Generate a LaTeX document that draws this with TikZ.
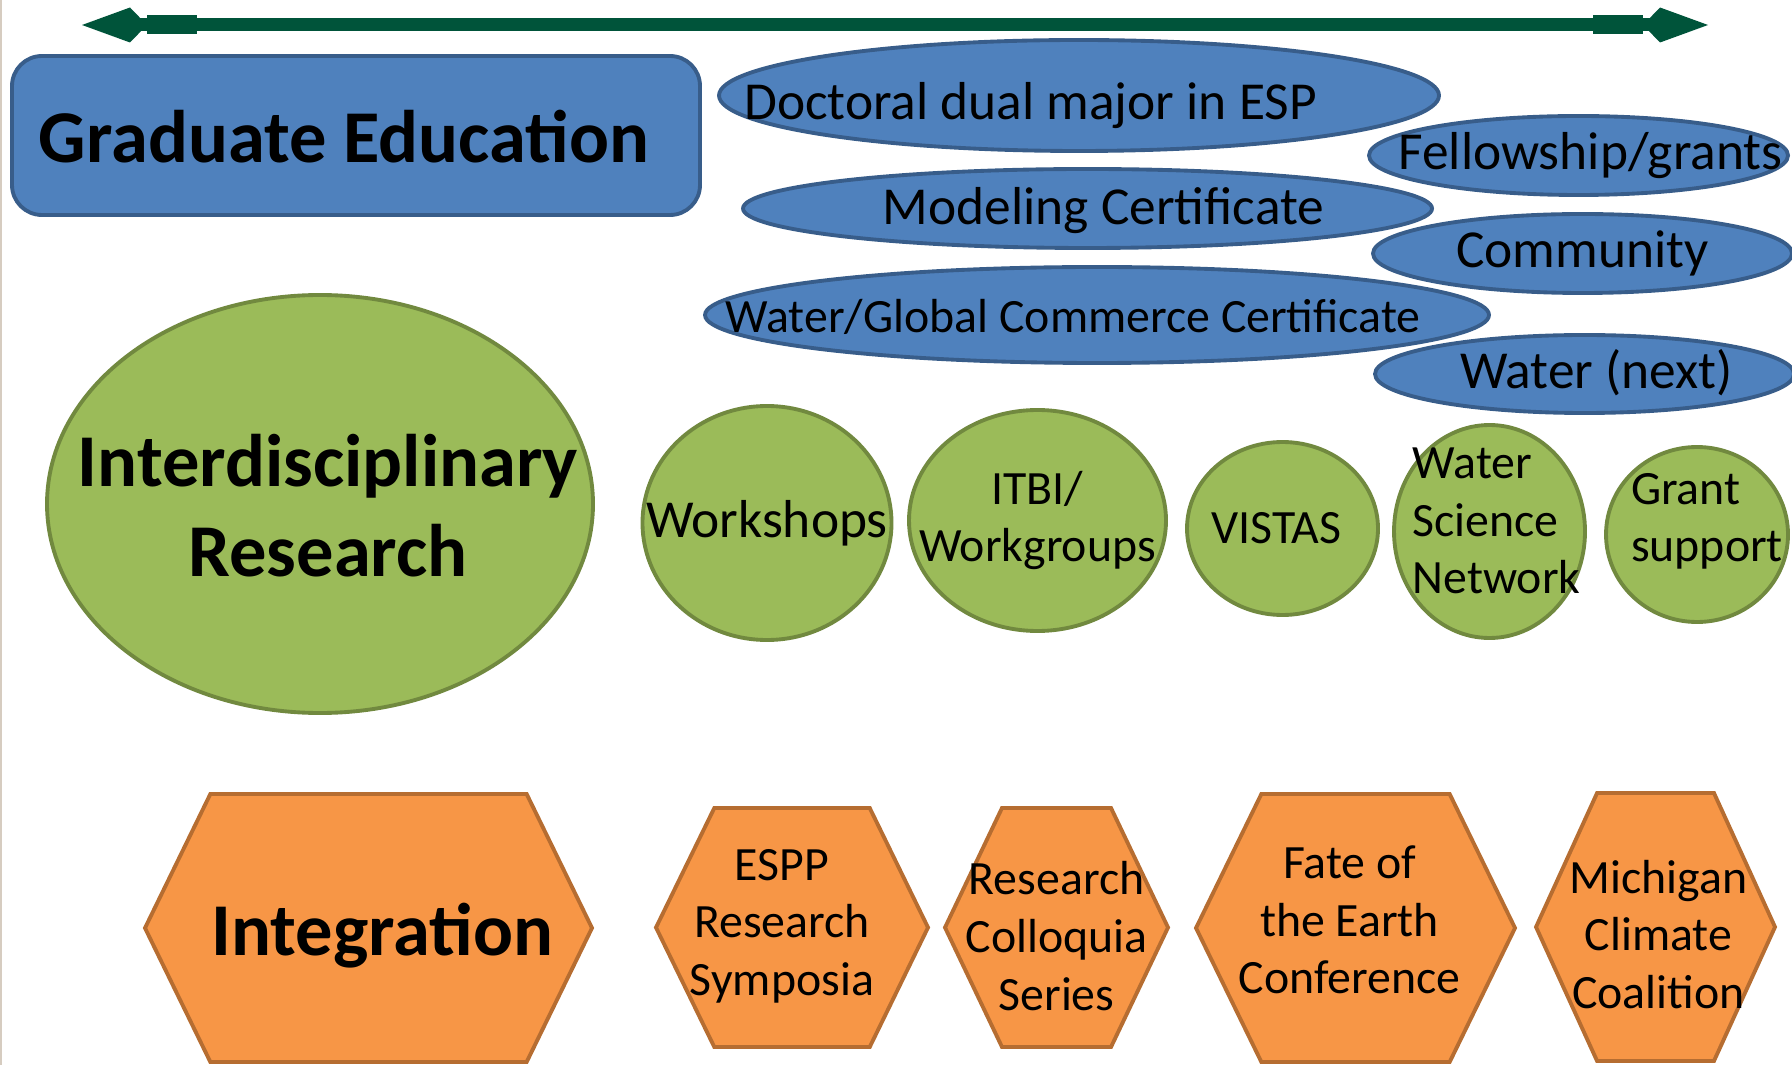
\documentclass[tikz,border=0pt]{standalone}
\usepackage{fontspec}
\setmainfont{Carlito}
\usetikzlibrary{shapes.geometric,shapes.symbols,arrows.meta}
\definecolor{blueoff}{RGB}{79,129,189}
\definecolor{bluerim}{RGB}{56,93,138}
\definecolor{greenoff}{RGB}{155,187,89}
\definecolor{greenrim}{RGB}{113,137,63}
\definecolor{orangeoff}{RGB}{247,150,70}
\definecolor{orangerim}{RGB}{182,109,49}
\definecolor{barcolor}{RGB}{0,84,58}
\definecolor{slideedge}{RGB}{214,204,192}
\newcommand{\headsize}{\fontsize{21.2}{25.6}\selectfont\bfseries}
\newcommand{\itemsize}{\fontsize{15.2}{16.4}\selectfont}
\newcommand{\smallsize}{\fontsize{13.6}{16.4}\selectfont}
\tikzstyle{box} = [rectangle, draw=bluerim, fill=blueoff, line width=1.1pt,
                rounded corners=3mm, inner sep=0pt]
\tikzstyle{oval} = [ellipse, draw=bluerim, fill=blueoff, line width=1.1pt, inner sep=0pt]
\tikzstyle{disc} = [ellipse, draw=greenrim, fill=greenoff, line width=1.1pt, inner sep=0pt]
\tikzstyle{hexa} = [signal, signal to=west and east, signal pointer angle=128,
                draw=orangerim, fill=orangeoff, line width=1.1pt, inner sep=0pt]
\tikzstyle{timeline} = [draw=barcolor, line width=1.3mm,
                {Kite[length=6.5mm,width=3.5mm,inset=1.7mm] Rectangle[length=5mm,width=1.9mm]}-{Rectangle[length=5mm,width=1.9mm] Kite[length=6.5mm,width=3.5mm,inset=1.7mm]}]
\tikzset{every label/.style={text=black, align=center, font=\smallsize}}

\begin{document}
\begin{tikzpicture}[x=0.1mm, y=-0.1mm]
                \useasboundingbox (0,0) rectangle (1792,1065);
                \draw[slideedge, line width=0.15mm] (1,0) -- (1,1065);
                \coordinate (west) at (82,25);
                \coordinate (east) at (1708,25);
                \path[timeline] (west) -- (east);
                \node[box, minimum width=68.8mm, minimum height=15.9mm, label={[font=\headsize, xshift=-1.2mm, yshift=-0.1mm]center:Graduate Education}](grad) at (356,135.5){};
                \node[oval, minimum width=72mm, minimum height=11.1mm, label={[font=\itemsize, xshift=-4.85mm, yshift=-1mm]center:Doctoral dual major in ESP}](dual) at (1079,95.5){};
                \node[oval, minimum width=41.9mm, minimum height=7.9mm, label={[font=\itemsize, xshift=1.2mm]center:Fellowship/grants}](fellow) at (1578.5,155.5){};
                \node[oval, minimum width=68.9mm, minimum height=7.9mm, label={[font=\itemsize, xshift=1.6mm, yshift=-0.2mm]center:Modeling Certificate}](model) at (1087.5,208.5){};
                \node[oval, minimum width=41.9mm, minimum height=7.9mm, label={[font=\itemsize]center:Community}](community) at (1582.5,253.5){};
                \node[oval, minimum width=78.4mm, minimum height=9.6mm, label={[xshift=-2.4mm, yshift=-0.2mm]center:Water/Global Commerce Certificate}](commerce) at (1097,315){};
                \node[oval, minimum width=41.9mm, minimum height=7.8mm, label={[font=\itemsize, xshift=1.2mm, yshift=0.1mm]center:Water (next)}](waternext) at (1584.5,374){};
                \node[disc, minimum width=54.6mm, minimum height=41.8mm, label={[font=\headsize, xshift=0.8mm, yshift=-0.2mm]center:Interdisciplinary\\Research}](research) at (320,504){};
                \node[disc, minimum width=24.9mm, minimum height=23.4mm, label={[font=\itemsize]center:Workshops}](workshops) at (767,523){};
                \node[disc, minimum width=25.7mm, minimum height=22.1mm, label={center:ITBI/\\Workgroups}](itbi) at (1037.5,520.5){};
                \node[disc, minimum width=19.1mm, minimum height=17.3mm, label={[xshift=-0.6mm]center:VISTAS}](vistas) at (1282.5,528.5){};
                \node[disc, minimum width=19.1mm, minimum height=21.3mm, label={[align=left, xshift=0.7mm, yshift=1.05mm]center:Water\\Science\\Network}](wsn) at (1489.5,531.5){};
                \node[disc, minimum width=18.2mm, minimum height=17.5mm, label={[align=left, xshift=1mm, yshift=1.3mm]center:Grant\\support}](grant) at (1697,534.5){};
                \node[hexa, minimum width=44.7mm, minimum height=26.8mm, label={[font=\headsize, xshift=1.4mm, yshift=-0.75mm]center:Integration}](integration) at (368.5,928){};
                \node[hexa, minimum width=27.2mm, minimum height=23.9mm, label={[xshift=-1mm, yshift=0.15mm]center:ESPP\\Research\\Symposia}](espp) at (792,927.5){};
                \node[hexa, minimum width=22.3mm, minimum height=23.9mm, signal pointer angle=129, label={[yshift=-0.85mm]center:Research\\Colloquia\\Series}](colloquia) at (1056.5,927.5){};
                \node[hexa, minimum width=31.9mm, minimum height=26.8mm, label={[xshift=-0.6mm, yshift=0.8mm]center:Fate of\\the Earth\\Conference}](fate) at (1355.5,928){};
                \node[hexa, minimum width=23.9mm, minimum height=26.8mm, signal pointer angle=131, label={[xshift=0.3mm, yshift=-0.75mm]center:Michigan\\Climate\\Coalition}](coalition) at (1655.5,927){};
            \end{tikzpicture}
\end{document}
